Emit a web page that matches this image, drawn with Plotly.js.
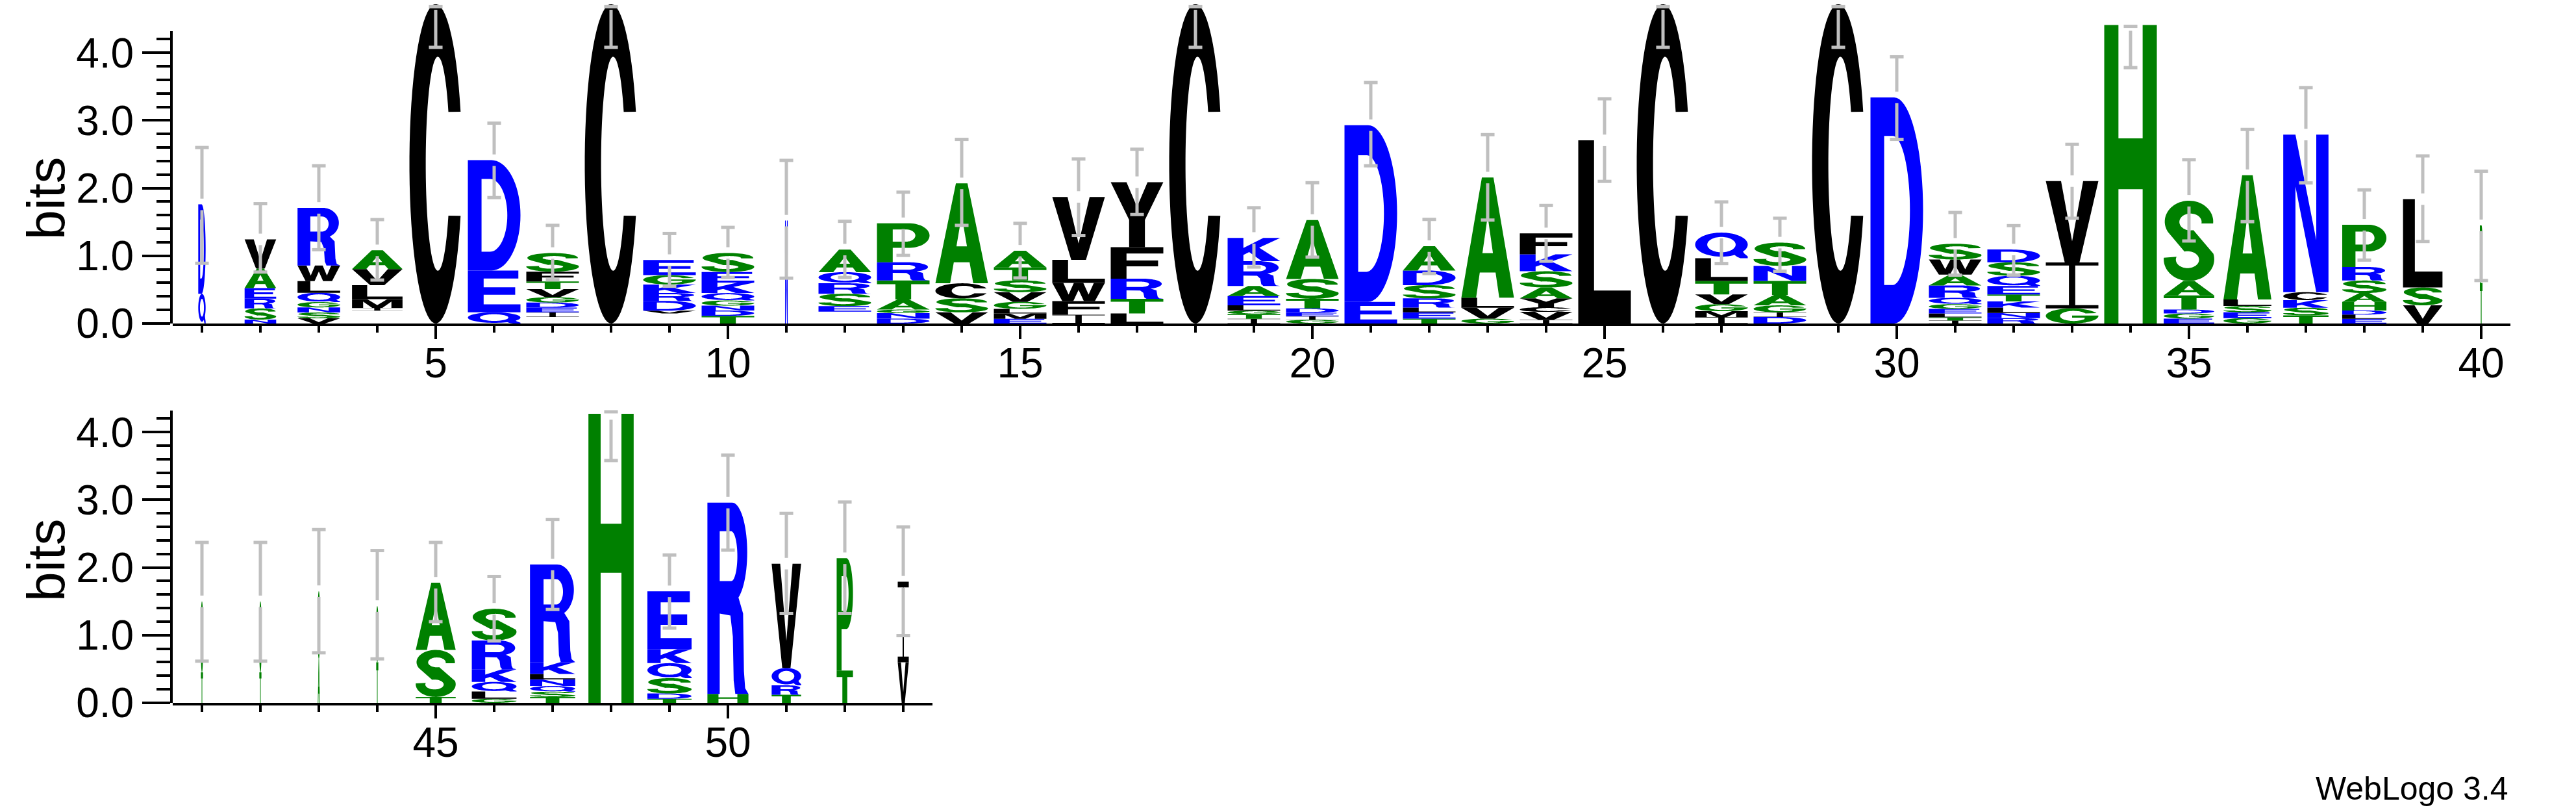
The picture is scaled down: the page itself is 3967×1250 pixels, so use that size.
<!DOCTYPE html>
<html><head><meta charset="utf-8">
<script src="https://cdn.plot.ly/plotly-3.0.1.min.js"></script>
<style>html,body{margin:0;padding:0;background:#fff}</style>
</head><body>
<div id="chart" style="width:3967px;height:1250px"></div>
<script>
const positions = [1,2,3,4,5,6,7,8,9,10,11,12,13,14,15,16,17,18,19,20,21,22,23,24,25,26,27,28,29,30,31,32,33,34,35,36,37,38,39,40,41,42,43,44,45,46,47,48,49,50,51,52,53];
// letters of each stack, bottom to top ('-' = empty space)
const letters = ["QD","NSREAV","VSNGQLWR","-IMLVA","C","QED","-IEDGVTFS","C","-VDRKGE","TDNGQKES","N","-ESRQA","DNGATRP","VSCA","EMLGVSTA","IFWLV","LTRFY","C","ITGLEARK","GIEDTSA","ED","TELRSDA","GVLA","IVCYASKF","L","C","IMGVTLQ","DIGATNS","C","D","ITLEGQRAWS","RNLKTEQSD","GIV","H","EGDTAS","GESLA","TSKCN","ELDHASRP","VSL","TP","TS","TS","AS","TS","TSA","GLQKRS","TSQNLKR","H","TDSQKE","HR","TRQV","TP","VI"];
// heights in bits, same order as letters
const heights = [
 [0.44,1.32],[0.058,0.165,0.144,0.155,0.292,0.429],[0.076,0.086,0.076,0.079,0.137,0.172,0.230,0.852],[0.189,0.041,0.130,0.206,0.237,0.278],[4.72],
 [0.165,0.618,1.63],[0.096,0.069,0.069,0.076,0.079,0.12,0.113,0.144,0.275],[4.72],[0.148,0.041,0.144,0.117,0.127,0.137,0.223],[0.113,0.079,0.072,0.076,0.110,0.155,0.155,0.282],
 [1.52],[0.175,0.082,0.182,0.155,0.165,0.333],[0.072,0.082,0.052,0.148,0.282,0.268,0.577],[0.165,0.206,0.223,1.476],[0.069,0.079,0.069,0.103,0.144,0.172,0.192,0.247],
 [0.13,0.20,0.27,0.34,0.93],[0.148,0.216,0.299,0.464,0.961],[4.72],[0.069,0.069,0.052,0.079,0.137,0.148,0.367,0.343],[0.055,0.052,0.052,0.065,0.141,0.292,0.872],
 [0.32,2.61],[0.072,0.093,0.069,0.137,0.196,0.216,0.36],[0.072,0.161,0.148,1.775],[0.052,0.12,0.069,0.13,0.161,0.24,0.25,0.309],[2.706],
 [4.72],[0.096,0.086,0.103,0.144,0.2,0.336,0.378],[0.096,0.069,0.103,0.155,0.206,0.223,0.343],[4.72],[3.34],
 [0.045,0.045,0.058,0.069,0.069,0.093,0.182,0.161,0.223,0.233],[0.079,0.076,0.079,0.093,0.103,0.124,0.151,0.199,0.189],[0.223,0.68,1.20],[4.41],[0.072,0.076,0.058,0.21,0.213,1.185],
 [0.079,0.086,0.093,0.096,1.837],[0.12,0.113,0.113,0.117,2.328],[0.069,0.062,0.062,0.127,0.13,0.185,0.199,0.625],[0.268,0.264,1.305],[0.6,0.85],
 [0.45,1.05],[0.45,1.05],[0.65,1.0],[0.6,0.83],[0.087,0.695,0.993],[0.06,0.107,0.143,0.187,0.425,0.469],[0.087,0.079,0.083,0.099,0.079,0.175,1.442],[4.27],
 [0.06,0.079,0.226,0.222,0.207,0.854],[0.131,2.828],[0.119,0.139,0.258,1.541],[0.477,1.66],[0.60,1.19]
];
// visible stack width (fraction of a full column)
const widthFrac = [0.14,0.60,0.81,0.96,1,1,1,1,1,1, 0.05,1,1,1,1,1,1,1,1,1, 1,1,1,1,1,1,1,1,1,1, 1,1,1,1,0.96,0.91,0.86,0.84,0.75,0.05, 0.04,0.04,0.04,0.04,0.76,0.85,0.86,0.86,0.84,0.78,0.56,0.31,0.21];
// error bar ends (bits)
const errHigh = [2.60,1.77,2.33,1.535,4.68,2.96,1.45,4.68,1.33,1.42, 2.41,1.51,1.94,2.72,1.48,2.43,2.575,4.68,1.71,2.08, 3.56,1.538,2.79,1.744,3.32,4.68,1.796,1.555,4.68,3.94, 1.64,1.446,2.647,4.39,2.42,2.867,3.485,1.974,2.476,2.25, 2.37,2.37,2.56,2.25,2.37,1.867,2.71,4.30,2.185,3.66,2.80,2.967,2.60];
const errLow = [0.89,0.76,1.09,0.642,4.08,1.86,0.645,4.08,0.55,0.68, 0.67,0.68,1.006,1.45,0.673,1.30,1.61,4.08,0.834,0.98, 2.33,0.738,1.528,0.92,2.10,4.08,0.886,0.773,4.08,2.72, 0.714,0.714,1.555,3.78,1.219,1.504,2.077,0.937,1.212,0.635, 0.616,0.616,0.74,0.65,1.20,0.914,1.38,3.58,1.104,2.256,1.32,1.32,0.993];
const yTickVals = [0,1,2,3,4];
const yTickText = ["0.0","1.0","2.0","3.0","4.0"];

// ---------------- style ----------------
const FONT = "Liberation Sans, Arial, Helvetica, sans-serif";
const GREEN = "#008000", BLUE = "#0000ff", BLACK = "#000000", ERRC = "#bfbfbf";
const COLOR = {};
"RKDENQ".split("").forEach(c => COLOR[c] = BLUE);
"SGHTAP".split("").forEach(c => COLOR[c] = GREEN);
"YVMCLFIW".split("").forEach(c => COLOR[c] = BLACK);

// glyph outlines in a unit box (x 0..1, y 0..1 up)
function arc(cx, cy, rx, ry, a0, a1) {
  const n = Math.max(6, Math.ceil(Math.abs(a1 - a0) / 5));
  const out = [];
  for (let i = 0; i <= n; i++) {
    const a = (a0 + (a1 - a0) * i / n) * Math.PI / 180;
    out.push([cx + rx * Math.cos(a), cy + ry * Math.sin(a)]);
  }
  return out;
}
const P = (...parts) => [].concat(...parts);
const GLYPHS = {
  A: [[[0,0],[0.39,1],[0.61,1],[1,0],[0.72,0],[0.65,0.21],[0.35,0.21],[0.28,0]], [[0.40,0.37],[0.60,0.37],[0.5,0.68]]],
  C: [P(arc(0.5,0.5,0.5,0.5,19,341), arc(0.54,0.5,0.23,0.335,-29,-331))],
  D: [P([[0,0],[0,1]], arc(0.45,0.5,0.55,0.5,90,-90)), P([[0.26,0.17],[0.26,0.83]], arc(0.42,0.5,0.33,0.33,90,-90))],
  E: [[[0,0],[0,1],[0.96,1],[0.96,0.81],[0.3,0.81],[0.3,0.6],[0.9,0.6],[0.9,0.42],[0.3,0.42],[0.3,0.19],[1,0.19],[1,0]]],
  F: [[[0,0],[0,1],[1,1],[1,0.8],[0.3,0.8],[0.3,0.58],[0.9,0.58],[0.9,0.39],[0.3,0.39],[0.3,0]]],
  G: [P(arc(0.5,0.5,0.5,0.5,22,360), [[1,0.53],[0.5,0.53],[0.5,0.39],[0.74,0.39]], arc(0.53,0.5,0.26,0.335,-38,-330))],
  H: [[[0,0],[0,1],[0.27,1],[0.27,0.62],[0.73,0.62],[0.73,1],[1,1],[1,0],[0.73,0],[0.73,0.45],[0.27,0.45],[0.27,0]]],
  I: [[[0,0],[0,0.07],[0.44,0.07],[0.44,0.93],[0,0.93],[0,1],[1,1],[1,0.93],[0.56,0.93],[0.56,0.07],[1,0.07],[1,0]]],
  K: [[[0,0],[0,1],[0.3,1],[0.3,0.57],[0.68,1],[1,1],[0.6,0.58],[1,0],[0.65,0],[0.41,0.39],[0.3,0.27],[0.3,0]]],
  L: [[[0,0],[0,1],[0.3,1],[0.3,0.18],[1,0.18],[1,0]]],
  M: [[[0,0],[0,1],[0.3,1],[0.5,0.32],[0.7,1],[1,1],[1,0],[0.78,0],[0.78,0.72],[0.6,0],[0.4,0],[0.22,0.72],[0.22,0]]],
  N: [[[0,0],[0,1],[0.27,1],[0.73,0.33],[0.73,1],[1,1],[1,0],[0.73,0],[0.27,0.67],[0.27,0]]],
  P: [P([[0,0],[0,1]], arc(0.6,0.685,0.4,0.315,90,-90), [[0.3,0.37],[0.3,0]]), P([[0.3,0.53],[0.3,0.84]], arc(0.56,0.685,0.17,0.155,90,-90))],
  Q: [P(arc(0.5,0.53,0.5,0.47,-35,300), [[0.80,0.05],[0.86,0],[1,0],[1,0.07],[0.93,0.19]]), arc(0.5,0.53,0.27,0.3,0,360)],
  R: [P([[0,0],[0,1]], arc(0.6,0.74,0.37,0.26,90,-65), [[0.87,0.42],[0.89,0.12],[0.92,0.03],[1,0],[0.68,0],[0.64,0.07],[0.62,0.3],[0.56,0.41],[0.3,0.42],[0.3,0]]), P([[0.3,0.59],[0.3,0.85]], arc(0.58,0.72,0.15,0.13,90,-90))],
  S: [P(arc(0.5,0.74,0.48,0.26,-5,212), arc(0.47,0.265,0.23,0.105,105,-200), arc(0.5,0.27,0.5,0.27,-184,15), arc(0.53,0.735,0.22,0.105,-75,-370))],
  T: [[[0,1],[1,1],[1,0.8],[0.65,0.8],[0.65,0],[0.35,0],[0.35,0.8],[0,0.8]]],
  V: [[[0,1],[0.29,1],[0.5,0.26],[0.71,1],[1,1],[0.64,0],[0.36,0]]],
  W: [[[0,1],[0.21,1],[0.31,0.36],[0.41,1],[0.59,1],[0.69,0.36],[0.79,1],[1,1],[0.81,0],[0.6,0],[0.5,0.62],[0.4,0],[0.19,0]]],
  Y: [[[0,1],[0.3,1],[0.5,0.62],[0.7,1],[1,1],[0.65,0.42],[0.65,0],[0.35,0],[0.35,0.42]]]
};
function area(c) { let s = 0; for (let i = 0; i < c.length; i++) { const a = c[i], b = c[(i+1) % c.length]; s += a[0]*b[1] - b[0]*a[1]; } return s / 2; }
Object.keys(GLYPHS).forEach(k => {
  GLYPHS[k] = GLYPHS[k].map((c, i) => {
    const a = area(c);
    return ((i === 0 && a < 0) || (i > 0 && a > 0)) ? c.slice().reverse() : c;
  });
});
function glyphPath(ch, x0, x1, y0, y1) {
  const g = GLYPHS[ch] || [[[0,0],[0,1],[1,1],[1,0]]];
  const sx = x1 - x0, sy = y1 - y0;
  return g.map(c => "M" + c.map(p => (x0 + p[0]*sx).toFixed(4) + "," + (y0 + p[1]*sy).toFixed(4)).join("L") + "Z").join(" ");
}

// ---------------- geometry ----------------
const W = 3967, H = 1250;
const PX_PER_BIT = 104.2, COL_PX = 90, XL = 266;
const ZERO1 = 498, ZERO2 = 1082;
const YMAX = 4.75, AXMAX = 4.32;
const GAP = 0.085, CAP = 0.117;
function yDom(zero, top) { return [(H - zero) / H, (H - zero + top * PX_PER_BIT) / H]; }

// ---------------- marks ----------------
const shapes = [];
const err = {x1: [], y1: [], x2: [], y2: []};
positions.forEach((pos, i) => {
  const row2 = pos > 40;
  const xr = row2 ? "x2" : "x", yr = row2 ? "y2" : "y";
  const half = 0.45 * widthFrac[i];
  let base = 0;
  letters[i].split("").forEach((ch, j) => {
    const h = heights[i][j];
    if (ch !== "-") {
      shapes.push({type: "path", xref: xr, yref: yr, layer: "below", fillrule: "evenodd",
        path: glyphPath(ch, pos - half, pos + half, base, base + h),
        fillcolor: COLOR[ch], line: {width: 0, color: "rgba(0,0,0,0)"}});
    }
    base += h;
  });
  const ex = row2 ? err.x2 : err.x1, ey = row2 ? err.y2 : err.y1;
  const hi = errHigh[i], lo = errLow[i];
  const seg = (xa, ya, xb, yb) => { ex.push(xa, xb, null); ey.push(ya, yb, null); };
  if (base - GAP > lo) seg(pos, lo, pos, Math.min(base - GAP, hi));
  if (base + GAP < hi) seg(pos, Math.max(base + GAP, lo), pos, hi);
  seg(pos - CAP, hi, pos + CAP, hi);
  seg(pos - CAP, lo, pos + CAP, lo);
});

const errLine = {color: ERRC, width: 5, simplify: false};
const traces = [
  {type: "scatter", mode: "lines", x: err.x1, y: err.y1, xaxis: "x", yaxis: "y", line: errLine, hoverinfo: "skip", connectgaps: false},
  {type: "scatter", mode: "lines", x: err.x2, y: err.y2, xaxis: "x2", yaxis: "y2", line: errLine, hoverinfo: "skip", connectgaps: false},
  {type: "scatter", mode: "markers", x: [1], y: [0], xaxis: "x", yaxis: "y3", marker: {opacity: 0}, hoverinfo: "skip"},
  {type: "scatter", mode: "markers", x: [41], y: [0], xaxis: "x2", yaxis: "y4", marker: {opacity: 0}, hoverinfo: "skip"}
];

const tickFont = {family: FONT, size: 64, color: "#000"};
function xAxis(n0, n1, anchor) {
  return {domain: [XL / W, (XL + (n1 - n0) * COL_PX) / W], range: [n0, n1], anchor: anchor,
    showline: true, linewidth: 4, linecolor: "#000", ticks: "outside", ticklen: 20, tickwidth: 4, tickcolor: "#000",
    tickmode: "linear", tick0: 0, dtick: 5, tickfont: tickFont, ticklabelstandoff: -18,
    minor: {ticks: "outside", tickmode: "linear", tick0: 0, dtick: 1, ticklen: 10, tickwidth: 4, tickcolor: "#000", showgrid: false},
    showgrid: false, zeroline: false, fixedrange: true};
}
function letterAxis(zero, anchor) {
  return {domain: yDom(zero, YMAX), range: [0, YMAX], anchor: anchor, showline: false, showticklabels: false,
    ticks: "", showgrid: false, zeroline: false, fixedrange: true};
}
function tickAxis(zero, anchor) {
  return {domain: yDom(zero, AXMAX), range: [0, AXMAX], anchor: anchor,
    showline: true, linewidth: 4, linecolor: "#000", ticks: "outside", ticklen: 43, tickwidth: 4, tickcolor: "#000",
    tickmode: "array", tickvals: yTickVals, ticktext: yTickText, tickfont: tickFont,
    minor: {ticks: "outside", tickmode: "linear", tick0: 0, dtick: 0.2, ticklen: 21, tickwidth: 4, tickcolor: "#000", showgrid: false},
    showgrid: false, zeroline: false, fixedrange: true};
}

const layout = {
  width: W, height: H, margin: {l: 0, r: 0, t: 0, b: 0},
  paper_bgcolor: "#fff", plot_bgcolor: "rgba(0,0,0,0)", showlegend: false, hovermode: false,
  font: {family: FONT, color: "#000"},
  xaxis: xAxis(0.5, 40.5, "y"),
  yaxis: letterAxis(ZERO1, "x"),
  yaxis3: tickAxis(ZERO1, "x"),
  xaxis2: xAxis(40.5, 53.5, "y2"),
  yaxis2: letterAxis(ZERO2, "x2"),
  yaxis4: tickAxis(ZERO2, "x2"),
  shapes: shapes,
  annotations: [
    {text: "bits", xref: "paper", yref: "paper", x: 70 / W, y: (H - 305) / H, xanchor: "center", yanchor: "middle", textangle: -90, showarrow: false, font: {family: FONT, size: 82, color: "#000"}},
    {text: "bits", xref: "paper", yref: "paper", x: 70 / W, y: (H - 862) / H, xanchor: "center", yanchor: "middle", textangle: -90, showarrow: false, font: {family: FONT, size: 82, color: "#000"}},
    {text: "WebLogo 3.4", xref: "paper", yref: "paper", x: 3865 / W, y: (H - 1214) / H, xanchor: "right", yanchor: "middle", showarrow: false, font: {family: FONT, size: 50, color: "#000"}}
  ]
};

Plotly.newPlot("chart", traces, layout, {staticPlot: true, displayModeBar: false});
</script>
</body></html>
